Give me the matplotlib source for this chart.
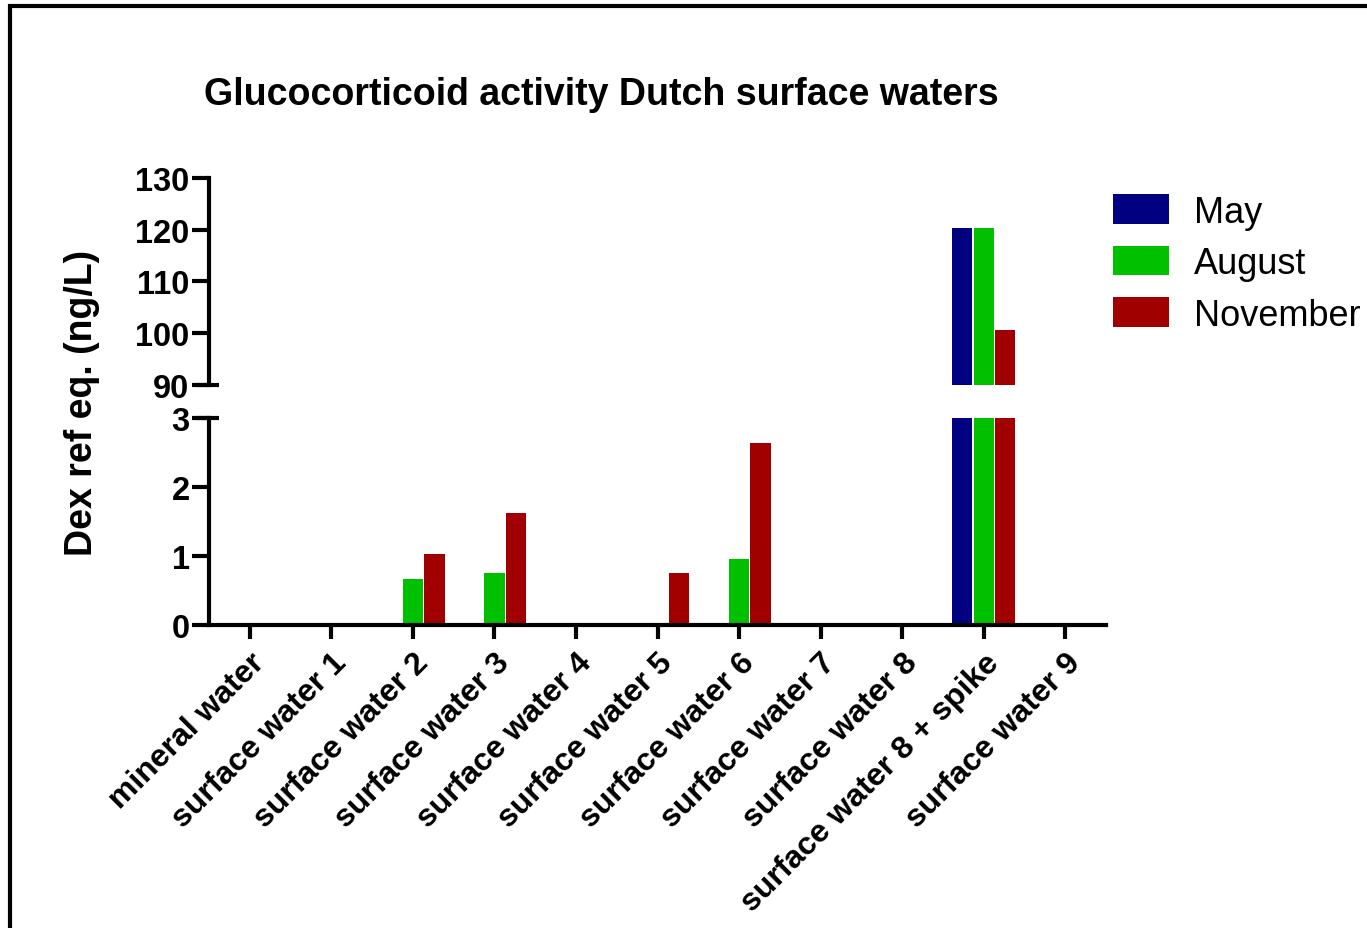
import matplotlib
matplotlib.use("Agg")
import matplotlib.pyplot as plt
import numpy as np
from matplotlib.patches import Rectangle

categories = ["mineral water", "surface water 1", "surface water 2", "surface water 3",
              "surface water 4", "surface water 5", "surface water 6", "surface water 7",
              "surface water 8", "surface water 8 + spike", "surface water 9"]
series_names = ["May", "August", "November"]
may = [0, 0, 0, 0, 0, 0, 0, 0, 0, 120.3, 0]
august = [0, 0, 0.67, 0.76, 0, 0, 0.96, 0, 0, 120.3, 0]
november = [0, 0, 1.03, 1.62, 0, 0.75, 2.64, 0, 0, 100.6, 0]
colors = ["#000080", "#00C000", "#A00000"]
lower_ticks = [0, 1, 2, 3]
upper_ticks = [90, 100, 110, 120, 130]

plt.rcParams['font.family'] = ['Liberation Sans', 'DejaVu Sans']

W, H = 1367, 929
fig = plt.figure(figsize=(W / 100, H / 100), dpi=100)

def fx(px):
    return px / W

def fy(py):
    return 1 - py / H

left, right = 209, 1106
ax_lo = fig.add_axes([fx(left), fy(626), fx(right - left), fy(419) - fy(626)])
ax_hi = fig.add_axes([fx(left), fy(386), fx(right - left), fy(179) - fy(386)])

TICK_FS = 23.5
x = np.arange(len(categories))
bw = 0.265
data = [may, august, november]
for ax in (ax_lo, ax_hi):
    for i, (vals, c, name) in enumerate(zip(data, colors, series_names)):
        ax.bar(x + (i - 1) * bw, vals, width=bw * 0.94, color=c, label=name,
               edgecolor='none')
    ax.set_xlim(-0.5, len(categories) - 0.5)
    for s in ("top", "right"):
        ax.spines[s].set_visible(False)
    ax.spines["left"].set_linewidth(3)
    ax.spines["bottom"].set_linewidth(3)
    ax.tick_params(axis='y', direction='out', length=12, width=3, pad=2)

ax_lo.set_ylim(0, 3)
ax_lo.set_yticks(lower_ticks)
ax_lo.set_yticklabels([str(t) for t in lower_ticks], fontweight='bold', fontsize=TICK_FS)
ax_lo.set_xticks(x)
ax_lo.set_xticklabels(categories, rotation=45, ha='right', rotation_mode='anchor',
                      fontweight='bold', fontsize=23)
ax_lo.tick_params(axis='x', direction='out', length=10, width=3, pad=6)

ax_hi.set_ylim(90, 130)
ax_hi.set_yticks(upper_ticks)
ax_hi.set_yticklabels([str(t) for t in upper_ticks], fontweight='bold', fontsize=TICK_FS)
ax_hi.spines["bottom"].set_visible(False)
ax_hi.set_xticks([])

# break marks (extended ticks)
for ax, yv in ((ax_hi, 0.0), (ax_lo, 1.0)):
    ax.plot([-0.014, 0.011], [yv, yv], transform=ax.transAxes, color='black',
            lw=3, clip_on=False, solid_capstyle='butt')

fig.text(fx(82), fy(403), "Dex ref eq. (ng/L)", rotation=90, ha='center', va='center',
         fontsize=27, fontweight='bold')
fig.text(fx(601), fy(95), "Glucocorticoid activity Dutch surface waters", ha='center',
         va='center', fontsize=27, fontweight='bold')

handles, labels = ax_hi.get_legend_handles_labels()
fig.legend(handles, labels, loc='upper left', bbox_to_anchor=(fx(1099), fy(181)),
           frameon=False, fontsize=26, handlelength=1.53, handleheight=0.88,
           labelspacing=0.45, handletextpad=0.7, borderaxespad=0)

fig.patches.append(Rectangle((fx(10), -0.1), 1.2, fy(7) + 0.1, transform=fig.transFigure,
                             fill=False, edgecolor='black', lw=3))

fig.savefig("out.png", dpi=100)
